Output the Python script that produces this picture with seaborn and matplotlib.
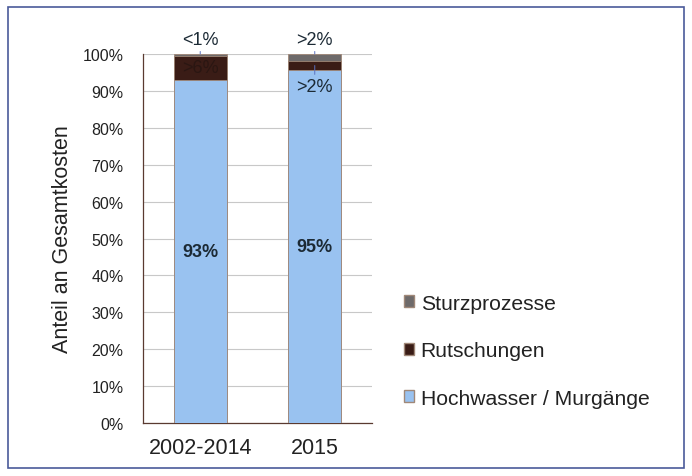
import matplotlib.pyplot as plt
import seaborn as sns
import pandas as pd
from matplotlib.patches import Rectangle, Patch

# Daten (Anteile in %)
zeitraum = ['2002-2014', '2015']
hochwasser = [93.0, 95.8]
rutschungen = [6.6, 2.2]
sturz = [0.4, 2.0]
labels_hoch = ['93%', '95%']
label_rutsch = ['>6%', '>2%']
label_sturz = ['<1%', '>2%']

farbe_hoch = '#99c2f0'
farbe_rutsch = '#3a1c16'
farbe_sturz = '#6e6a6a'

df = pd.DataFrame({'Zeitraum': zeitraum, 'Hoch': hochwasser,
                   'Rutsch': rutschungen, 'Sturz': sturz})
df['cum_rutsch'] = df['Hoch'] + df['Rutsch']
df['cum_sturz'] = df['cum_rutsch'] + df['Sturz']

sns.set_style('white')
plt.rcParams['font.family'] = ['Liberation Sans', 'DejaVu Sans']

fig = plt.figure(figsize=(6.92, 4.77), dpi=100)
ax = fig.add_axes([0.2066, 0.111, 0.331, 0.7735])

# gestapelte Balken: von oben nach unten übereinander zeichnen
kw = dict(width=0.46, edgecolor='#a08878', linewidth=0.6, saturation=1, ax=ax, zorder=3)
sns.barplot(data=df, x='Zeitraum', y='cum_sturz', color=farbe_sturz, **kw)
sns.barplot(data=df, x='Zeitraum', y='cum_rutsch', color=farbe_rutsch, **kw)
sns.barplot(data=df, x='Zeitraum', y='Hoch', color=farbe_hoch, **kw)

ax.set_ylim(0, 100)
ax.set_xlim(-0.5, 1.5)
ax.set_yticks(range(0, 101, 10))
ax.set_yticklabels([f'{v}%' for v in range(0, 101, 10)], fontsize=11.5, color='#222222')
ax.set_xticks([0, 1])
ax.set_xticklabels(zeitraum, fontsize=15.5, color='#222222')
ax.set_xticks([-0.5, 0.5, 1.5], minor=True)
ax.tick_params(axis='x', which='major', length=0, pad=10)
ax.tick_params(axis='x', which='minor', length=6, width=0.8, color='#5a3a30', direction='out')
ax.tick_params(axis='y', length=5, width=0.8, color='#5a3a30', direction='out', pad=9)
ax.set_xlabel('')
ax.set_ylabel('Anteil an Gesamtkosten', fontsize=15.5, color='#222222', labelpad=7)
ax.grid(axis='y', color='#c8c8c8', linewidth=0.8, zorder=0)
ax.set_axisbelow(True)
for s in ['top', 'right']:
    ax.spines[s].set_visible(False)
for s in ['left', 'bottom']:
    ax.spines[s].set_color('#5a3a30')
    ax.spines[s].set_linewidth(0.9)

# Beschriftungen
txt = '#1c2a35'
leader = dict(arrowstyle='-', color='#5a70c0', lw=0.7, shrinkA=0, shrinkB=0)
for i in range(len(zeitraum)):
    ax.text(i, hochwasser[i] / 2, labels_hoch[i], ha='center', va='center',
            fontsize=13, fontweight='bold', color=txt, zorder=5)
    ax.annotate(label_sturz[i], xy=(i, df['cum_sturz'][i]), xytext=(i, 101.6),
                ha='center', va='bottom', fontsize=13, color=txt, annotation_clip=False,
                arrowprops=leader)

# >6% im dunklen Segment (kaum sichtbar)
ax.text(0, hochwasser[0] + rutschungen[0] / 2, label_rutsch[0], ha='center', va='center',
        fontsize=13, color='#2a1612', zorder=5)
# >2% unterhalb des Segments
ax.annotate(label_rutsch[1], xy=(1, df['cum_rutsch'][1] - rutschungen[1] / 2),
            xytext=(1, hochwasser[1] - 6.8), ha='center', va='bottom', fontsize=13, color=txt,
            zorder=5, arrowprops=leader)

# Legende
handles = [Patch(facecolor=farbe_sturz, edgecolor='#a08878', label='Sturzprozesse'),
           Patch(facecolor=farbe_rutsch, edgecolor='#a08878', label='Rutschungen'),
           Patch(facecolor=farbe_hoch, edgecolor='#a08878', label='Hochwasser / Murgänge')]
fig.legend(handles=handles, loc='center left', bbox_to_anchor=(0.556, 0.263),
           frameon=False, fontsize=15.2, handlelength=0.5, handleheight=0.5,
           handletextpad=0.3, labelspacing=1.35, labelcolor='#222222')

# Rahmen um die Grafik
fig.patches.append(Rectangle((0.012, 0.016), 0.976, 0.967, transform=fig.transFigure,
                             fill=False, edgecolor='#4a5a9a', linewidth=1.2))

fig.savefig('out.png', dpi=100)
